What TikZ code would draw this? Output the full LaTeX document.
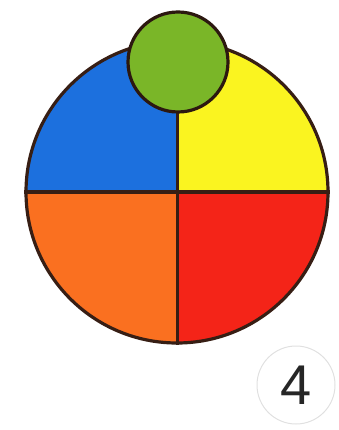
\documentclass[tikz,border=0pt]{standalone}
\usepackage{fontspec}
\setmainfont{Liberation Sans}
\definecolor{cblue}{RGB}{28,112,222}
\definecolor{cyellow}{RGB}{250,244,32}
\definecolor{corange}{RGB}{250,112,32}
\definecolor{cred}{RGB}{244,36,24}
\definecolor{cgreen}{RGB}{122,182,40}
\definecolor{cline}{RGB}{55,30,20}
\begin{document}
\begin{tikzpicture}[x=1pt,y=-1pt]
\useasboundingbox (0,0) rectangle (338,430);
\coordinate (c) at (177,192);
\begin{scope}
\clip (c) circle[radius=151pt];
\fill[cblue] (20,30) rectangle (c);
\fill[cyellow] (335,30) rectangle (c);
\fill[corange] (20,350) rectangle (c);
\fill[cred] (335,350) rectangle (c);
\end{scope}
\node[circle,draw=cline,line width=3.2pt,minimum size=302pt,inner sep=0pt] (big) at (c) {};
\draw[cline,line width=3.2pt] (big.west) -- (big.east);
\draw[cline,line width=3pt] (big.north) -- (big.south);
\node[circle,fill=cgreen,draw=cline!80!black,line width=3.2pt,minimum size=100pt,inner sep=0pt] (g) at (178,62) {};
\node[circle,draw=black!12,line width=1pt,minimum size=78pt,inner sep=0pt,text=black!85,font=\fontsize{56}{56}\selectfont] (n) at (296,385) {4};
\end{tikzpicture}
\end{document}
